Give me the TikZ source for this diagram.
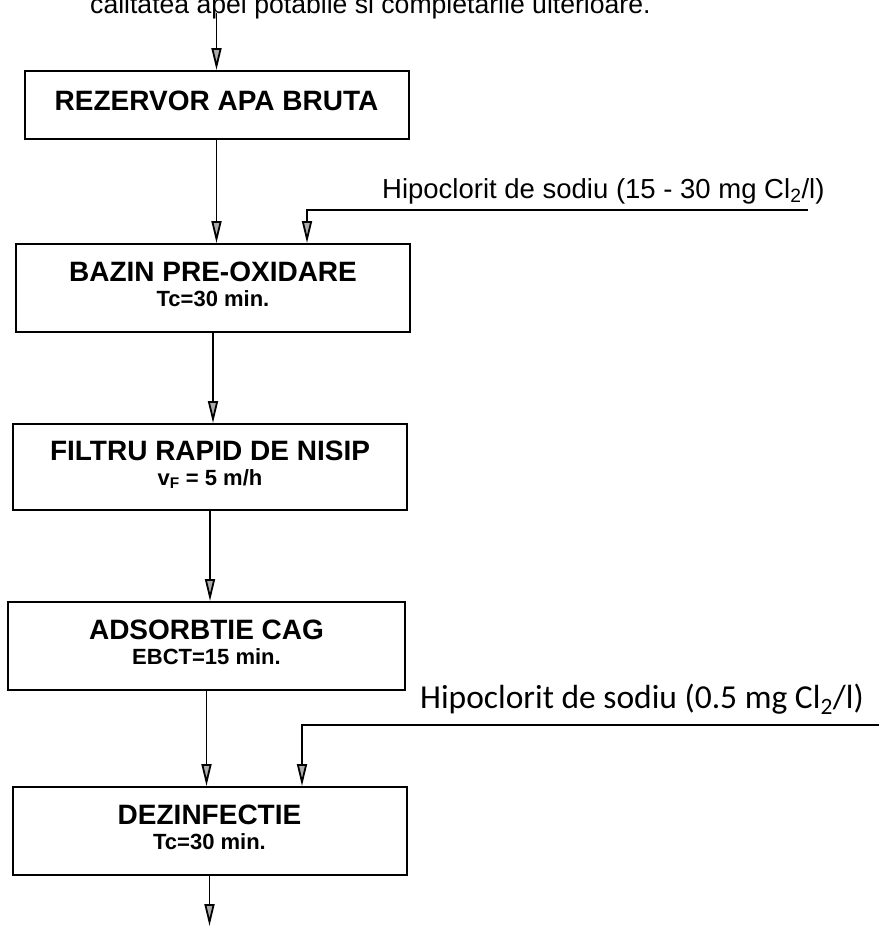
\documentclass[tikz,border=0pt]{standalone}
\usepackage{fontspec}
\setmainfont{Liberation Sans}
\newfontfamily\calibrifont{Carlito}
\usetikzlibrary{arrows.meta}

\tikzset{
    treapta/.style={draw, line width=2pt, align=center, inner sep=0pt,
        minimum width=394pt, minimum height=88pt, text depth=8pt,
        font=\bfseries\fontsize{22}{25}\selectfont},
    flux/.style={line width=1.8pt,
        -{Triangle[length=22pt,width=10pt,fill=gray!65]}},
    eticheta/.style={anchor=base west, inner sep=0pt},
}
\newcommand{\titlu}[1]{{\fontsize{28}{25}\selectfont #1}}

\begin{document}
\begin{tikzpicture}[x=1pt, y=-1pt]
        \useasboundingbox (0,0) rectangle (879,926);

        % textul de sus (taiat)
        \node[eticheta, font=\fontsize{26.6}{30}\selectfont] (nota) at (90,13)
            {calitatea apei potabile si completarile ulterioare.};
        \coordinate (intrare) at (216.5,13);

        % treptele de tratare
        \node[treapta, minimum width=384pt, minimum height=68pt] (rezervor) at (216.5,105)
            {\titlu{REZERVOR APA BRUTA}};
        \node[treapta] (bazin) at (213,288)
            {\titlu{BAZIN PRE-OXIDARE}\\Tc=30 min.};
        \node[treapta, minimum height=86pt] (filtru) at (210,467)
            {\titlu{FILTRU RAPID DE NISIP}\\v\textsubscript{F} = 5 m/h};
        \node[treapta, minimum width=397pt] (adsorbtie) at (206.5,646)
            {\titlu{ADSORBTIE CAG}\\EBCT=15 min.};
        \node[treapta] (dezinf) at (209.5,831)
            {\titlu{DEZINFECTIE}\\Tc=30 min.};
        \coordinate (iesire) at (209.5,926);

        % fluxul principal
        \draw[flux] (intrare) -- (rezervor.north);
        \draw[flux] (rezervor.south) -- (rezervor.south |- bazin.north);
        \draw[flux] (bazin.south) -- (bazin.south |- filtru.north);
        \draw[flux] (filtru.south) -- (filtru.south |- adsorbtie.north);
        \draw[flux] (adsorbtie.south) -- (adsorbtie.south |- dezinf.north);
        \draw[flux] (dezinf.south) -- (iesire);

        % dozare hipoclorit (pre-oxidare)
        \node[eticheta, font=\fontsize{27.5}{30}\selectfont] (hipo1) at (382,198)
            {Hipoclorit de sodiu (15 - 30 mg Cl\textsubscript{2}/l)};
        \coordinate (hipA) at (808,210);
        \draw[flux] (hipA) -| ([xshift=94pt]bazin.north);

        % dozare hipoclorit (dezinfectie)
        \node[eticheta, font=\calibrifont\fontsize{33.5}{36}\selectfont] (hipo2) at (420,708)
            {Hipoclorit de sodiu (0.5 mg Cl\textsubscript{2}/l)};
        \coordinate (hipB) at (879,725);
        \draw[flux] (hipB) -| ([xshift=92.5pt]dezinf.north);
\end{tikzpicture}
\end{document}
